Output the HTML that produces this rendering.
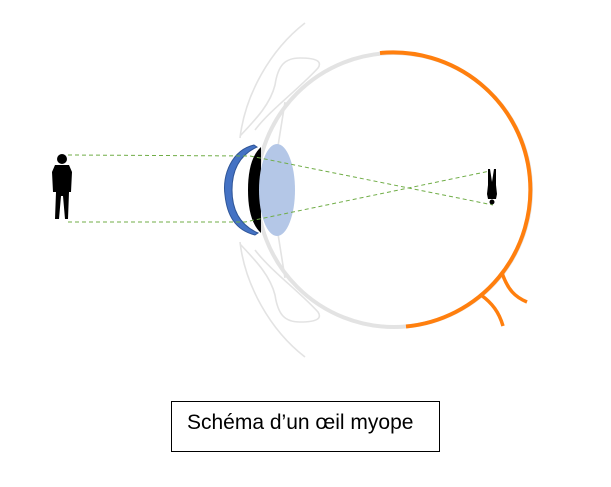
<!DOCTYPE html>
<html><head><style>
html,body{margin:0;padding:0;background:#fff;}
.wrap{position:relative;width:611px;height:487px;overflow:hidden;}
.cap{position:absolute;left:171px;top:401px;width:267px;height:49px;border:1.5px solid #000;box-sizing:content-box;}
.cap span{position:absolute;left:15px;top:9px;font-family:"Liberation Sans",sans-serif;font-size:21px;color:#000;white-space:nowrap;}
</style></head><body><div class="wrap">
<svg width="611" height="487" viewBox="0 0 611 487" style="position:absolute;left:0;top:0">
<g fill="none" stroke="#e3e3e3" stroke-width="1.6">
<path d="M305 23 C270 50 245 95 240 138"/>
<path d="M240 136 C255 120 270 105 275 85 C278 65 285 58 300 58 C318 58 322 62 318 68 C300 88 270 110 255 130"/>
<path d="M305 357 C270 330 245 285 240 242"/>
<path d="M240 244 C255 260 270 275 275 295 C278 315 285 322 300 322 C318 322 322 318 318 312 C300 292 270 270 255 250"/>
<path d="M285 102 L278 146"/>
<path d="M278 234 L285 278"/>
</g>
<circle cx="394" cy="190" r="137" fill="none" stroke="#e3e3e3" stroke-width="4"/>
<path d="M380 53 A137 137 0 0 1 406 326.5" fill="none" stroke="#ff7f0e" stroke-width="4"/>
<path d="M502 273 C508 290 515 297 527 302" fill="none" stroke="#ff7f0e" stroke-width="3.5"/>
<path d="M481 295 C492 303 499 312 503 326" fill="none" stroke="#ff7f0e" stroke-width="3.5"/>
<path d="M254 145 C232 150 222 175 225 195 C227 215 235 230 255 235 L258 233 C240 225 232 210 232 190 C232 170 240 155 257 147 Z" fill="#4472c4" stroke="#2f5597" stroke-width="1"/>
<path d="M261 147 C252 155 248 170 248 190 C248 210 252 225 261 233 Z" fill="#000"/>
<ellipse cx="277" cy="190" rx="18" ry="46" fill="#b4c7e7"/>
<g fill="none" stroke="#70ad47" stroke-width="1" stroke-dasharray="4 3">
<path d="M68 155 L250 156 L493 205"/>
<path d="M68 222 L245 222 L490 171"/>
</g>
<g fill="#000">
<circle cx="62" cy="159" r="5"/>
<path d="M55 165 L69 165 L72 172 L71 192 L69 192 L68 219 L65 219 L63 196 L61 196 L59 219 L55 219 L56 192 L53 192 L52 172 Z"/>
</g>
<g fill="#000">
<circle cx="492" cy="202" r="2.5"/>
<path d="M488 199 L496 199 L497 194 L496 185 L496 169 L494 169 L492 182 L490 169 L488 169 L488 185 L487 194 Z"/>
</g>
</svg>
<div class="cap"><span>Schéma d’un œil myope</span></div>
</div></body></html>
